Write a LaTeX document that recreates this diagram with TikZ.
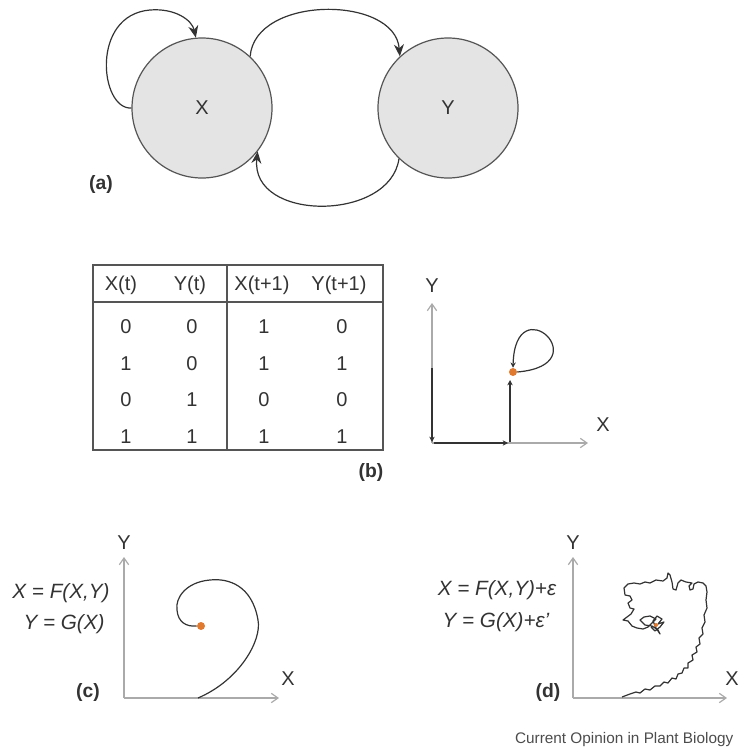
\documentclass[tikz,border=0pt]{standalone}
\usepackage{fontspec}
\setmainfont{Liberation Sans}
\usetikzlibrary{arrows.meta}
\definecolor{edge}{HTML}{555555}
\definecolor{circfill}{HTML}{E4E4E4}
\definecolor{axisgray}{HTML}{AAAAAA}
\definecolor{traj}{HTML}{333333}
\definecolor{dotorange}{HTML}{E07A30}
\begin{document}
\begin{tikzpicture}[x=0.75pt,y=-0.75pt,
  every node/.style={font=\fontsize{15}{18}\selectfont, text=black!80},
  circ/.style={circle, draw=edge, fill=circfill, line width=0.9pt, minimum size=105pt, inner sep=0pt},
  conn/.style={draw=traj, line width=0.9pt, -{Stealth[length=9pt,width=7.5pt]}},
  tab/.style={draw=edge, line width=0.9pt},
  cell/.style={inner sep=0pt, anchor=center},
  axis/.style={draw=axisgray, line width=0.9pt, -{Straight Barb[length=5pt,width=7pt]}},
  path/.style={draw=traj, line width=0.9pt},
  darr/.style={draw=traj, line width=1.1pt, -{Stealth[length=4pt,width=4pt]}},
  lab/.style={font=\fontsize{14.5}{17}\selectfont\bfseries},
  eq/.style={font=\fontsize{15.5}{18}\selectfont\itshape, inner sep=0pt},
  odot/.style={circle, fill=dotorange, inner sep=0pt, minimum size=6pt}
]
\useasboundingbox (0,0) rectangle (740,753);

% ---------- (a) ----------
\node[circ] (X) at (202,108) {X};
\node[circ] (Y) at (448,108) {Y};
\draw[conn] (X.180) .. controls (100,110) and (90,15) .. (150,10) .. controls (175,8) and (192,20) .. (X.95);
\draw[conn] (X.47) .. controls (255,-5) and (395,-5) .. (Y.133);
\draw[conn] (Y.226) .. controls (390,222) and (250,222) .. (X.322);
\node[lab] (la) at (101,184) {(a)};

% ---------- (b) table ----------
\coordinate (tl) at (93,265);
\coordinate (br) at (383,450);
\draw[tab] (tl) rectangle (br);
\coordinate (h1) at (93,302); \coordinate (h2) at (383,302);
\draw[tab] (h1) -- (h2);
\coordinate (v1) at (227,265); \coordinate (v2) at (227,450);
\draw[tab] (v1) -- (v2);
\node[cell] (hx) at (121,285) {X(t)};
\node[cell] (hy) at (190,285) {Y(t)};
\node[cell] (hx1) at (262,285) {X(t+1)};
\node[cell] (hy1) at (339,285) {Y(t+1)};
\foreach \r/\yy/\a/\b/\c/\d in {1/327/0/0/1/0, 2/364/1/0/1/1, 3/400/0/1/0/0, 4/437/1/1/1/1}{
  \node[cell] (c\r a) at (126,\yy) {\a};
  \node[cell] (c\r b) at (192,\yy) {\b};
  \node[cell] (c\r c) at (264,\yy) {\c};
  \node[cell] (c\r d) at (342,\yy) {\d};
}
\node[lab] (lb) at (371,472) {(b)};

% ---------- (b) phase plot ----------
\coordinate (bo) at (432,443);
\coordinate (byt) at (432,303);
\coordinate (bxt) at (588,443);
\draw[axis] (bo) -- (byt);
\draw[axis] (bo) -- (bxt);
\node (bY) at (432,286) {Y};
\node (bX) at (603,425) {X};
\coordinate (b1) at (432,368);
\coordinate (b2) at (432,442);
\coordinate (b3) at (434,443);
\coordinate (b4) at (508,443);
\coordinate (b5) at (510,442);
\coordinate (b6) at (510,380);
\draw[darr] (b1) -- (b2);
\draw[darr] (b3) -- (b4);
\draw[darr] (b5) -- (b6);
\node[odot] (bdot) at (513,372) {};
\draw[conn, -{Stealth[length=4pt,width=4pt]}] (bdot.east) .. controls (600,365) and (515,285) .. (bdot.north);

% ---------- (c) ----------
\coordinate (co) at (124,698);
\coordinate (cyt) at (124,557);
\coordinate (cxt) at (279,698);
\draw[axis] (co) -- (cyt);
\draw[axis] (co) -- (cxt);
\node (cY) at (124,543) {Y};
\node (cX) at (288,679) {X};
\node[eq] (ceq1) at (61,593) {X = F(X,Y)};
\node[eq] (ceq2) at (64,624) {Y = G(X)};
\node[lab] (lc) at (88,692) {(c)};
\node[odot] (cdot) at (201,626) {};
\draw[path] (198,698) .. controls (240,680) and (262,640) .. (258,620)
  .. controls (252,585) and (228,578) .. (210,580)
  .. controls (186,582) and (175,598) .. (177,610)
  .. controls (178,622) and (186,627) .. (cdot.west);

% ---------- (d) ----------
\coordinate (do) at (573,698);
\coordinate (dyt) at (573,557);
\coordinate (dxt) at (727,698);
\draw[axis] (do) -- (dyt);
\draw[axis] (do) -- (dxt);
\node (dY) at (573,543) {Y};
\node (dX) at (732,679) {X};
\node[eq] (deq1) at (497,590) {X = F(X,Y)+ε};
\node[eq] (deq2) at (496,622) {Y = G(X)+ε'};
\node[lab] (ld) at (548,692) {(d)};
\draw[path, line join=round] (622,697) -- (630,694) -- (636,692) -- (640,693) -- (645,689) -- (650,690) -- (655,686) -- (660,686) -- (664,682) -- (668,683) -- (672,678) -- (676,679) -- (678,674) -- (682,673) -- (684,668) -- (688,668) -- (688,663) -- (693,660) -- (692,655) -- (697,652) -- (696,647) -- (700,644) -- (699,638) -- (703,634) -- (702,628) -- (705,622) -- (704,615) -- (707,608) -- (706,600) -- (707,592) -- (706,586) -- (703,583) -- (698,582) -- (694,584) -- (693,589) -- (690,590) -- (689,586) -- (692,583) -- (686,582) -- (681,580) -- (678,583) -- (676,590) -- (673,589) -- (672,582) -- (670,575) -- (668,573) -- (667,578) -- (663,581) -- (656,580) -- (650,583) -- (645,582) -- (640,584) -- (634,583) -- (628,584) -- (624,588) -- (625,595) -- (630,596) -- (632,600) -- (628,603) -- (630,608) -- (634,609) -- (631,614) -- (627,617) -- (623,620) -- (628,621) -- (632,626) -- (637,628) -- (643,629) -- (648,627) -- (652,623) -- (656,619) -- (650,616) -- (644,617) -- (640,620) -- (645,625) -- (652,626) -- (658,630) -- (660,634) -- (656,628) -- (653,621) -- (657,616) -- (662,619) -- (658,624) -- (664,622) -- (660,627) -- (655,631) -- (651,627);
\node[circle, fill=dotorange, inner sep=0pt, minimum size=3pt] (ddot) at (656,625) {};
\node[font=\fontsize{11.5}{13}\selectfont, text=black!70, anchor=east] (cred) at (738,740) {Current Opinion in Plant Biology};
\end{tikzpicture}
\end{document}
